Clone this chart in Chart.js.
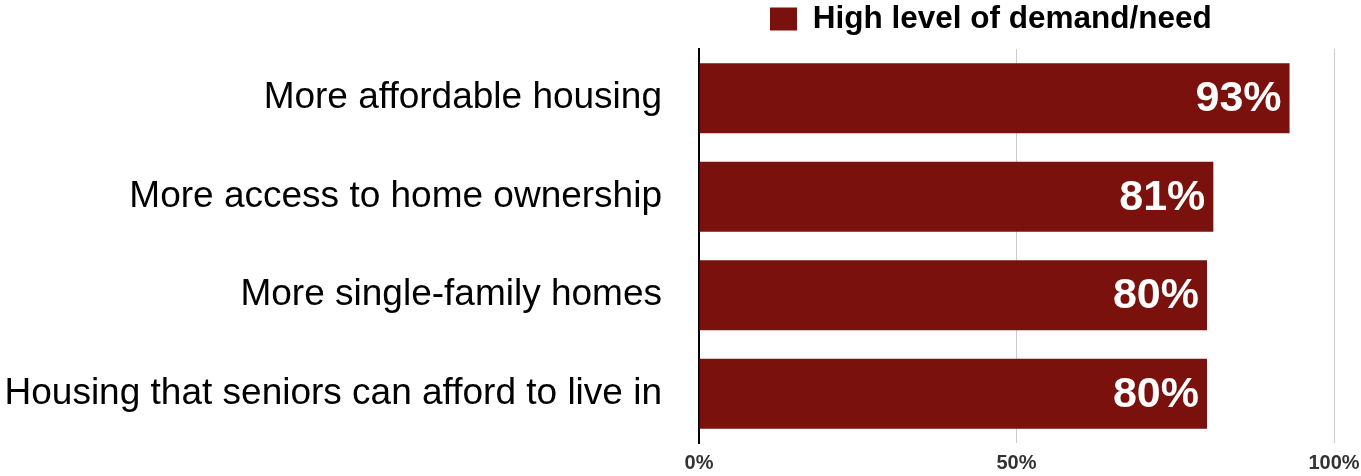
<!DOCTYPE html>
<html>
<head>
<meta charset="utf-8">
<title>Housing demand</title>
<script src="https://cdn.jsdelivr.net/npm/chart.js@4"></script>
<style>
  html, body { margin: 0; padding: 0; background: #fff; }
  canvas { display: block; }
</style>
</head>
<body>
<canvas id="chart" width="1361" height="476"></canvas>
<script>
// Survey results: share of respondents reporting a high level of demand/need
const categories = [
  'More affordable housing',
  'More access to home ownership',
  'More single-family homes',
  'Housing that seniors can afford to live in'
];
const seriesName = 'High level of demand/need';
const values = [93, 81, 80, 80];
const xTickValues = [0, 50, 100];

const FONT = '"Liberation Sans", Arial, Helvetica, sans-serif';
const BAR_COLOR = '#7a110c';

// Writes each bar's value in white, right-aligned inside the bar end
const valueLabels = {
  id: 'valueLabels',
  afterDatasetsDraw(chart) {
    const ctx = chart.ctx;
    const meta = chart.getDatasetMeta(0);
    ctx.save();
    ctx.font = 'bold 43px ' + FONT;
    ctx.fillStyle = '#ffffff';
    ctx.textAlign = 'right';
    ctx.textBaseline = 'middle';
    meta.data.forEach((bar, i) => {
      ctx.fillText(values[i] + '%', bar.x - 8, bar.y + 1);
    });
    ctx.restore();
  }
};

// Places the legend item above the plot, right of the axis
const legendPlacement = {
  id: 'legendPlacement',
  afterLayout(chart) {
    const lg = chart.legend;
    const pad = lg.options.labels.padding;
    const dx = 770 - (lg.left + pad);
    lg.left += dx;
    lg.right += dx;
    lg.top -= 4.25;
    lg.bottom -= 4.25;
  }
};

new Chart(document.getElementById('chart'), {
  type: 'bar',
  data: {
    labels: categories,
    datasets: [{
      label: seriesName,
      data: values,
      backgroundColor: BAR_COLOR,
      borderWidth: 0,
      barPercentage: 0.71,
      categoryPercentage: 1.0
    }]
  },
  options: {
    indexAxis: 'y',
    responsive: false,
    animation: false,
    devicePixelRatio: 1,
    layout: { padding: { top: 0, right: 27, bottom: 0, left: 0 } },
    plugins: {
      tooltip: { enabled: false },
      legend: {
        display: true,
        position: 'top',
        align: 'start',
        labels: {
          boxWidth: 27,
          boxHeight: 23,
          padding: 7.5,
          color: '#000',
          font: { family: FONT, size: 31.5, weight: 'bold' }
        }
      }
    },
    scales: {
      x: {
        min: 0,
        max: 100,
        afterBuildTicks(scale) {
          scale.ticks = xTickValues.map(v => ({ value: v }));
        },
        afterFit(scale) {
          scale.height = 33;
          scale.paddingLeft = 0;
          scale.paddingRight = 0;
        },
        grid: {
          drawTicks: false,
          color: ctx => (ctx.tick && ctx.tick.value === 0) ? 'rgba(0,0,0,0)' : '#cccccc',
          lineWidth: 1
        },
        border: { display: false },
        ticks: {
          padding: 8,
          color: '#333333',
          font: { family: FONT, size: 20, weight: 'bold' },
          callback: v => v + '%'
        }
      },
      y: {
        z: 1,
        afterFit(scale) {
          scale.width = 699;
          scale.paddingTop = 0;
          scale.paddingBottom = 0;
        },
        grid: { display: false, drawTicks: false },
        border: { display: true, color: '#000000', width: 2 },
        ticks: {
          padding: 37,
          color: '#000000',
          font: { family: FONT, size: 37 }
        }
      }
    }
  },
  plugins: [valueLabels, legendPlacement]
});
</script>
</body>
</html>
